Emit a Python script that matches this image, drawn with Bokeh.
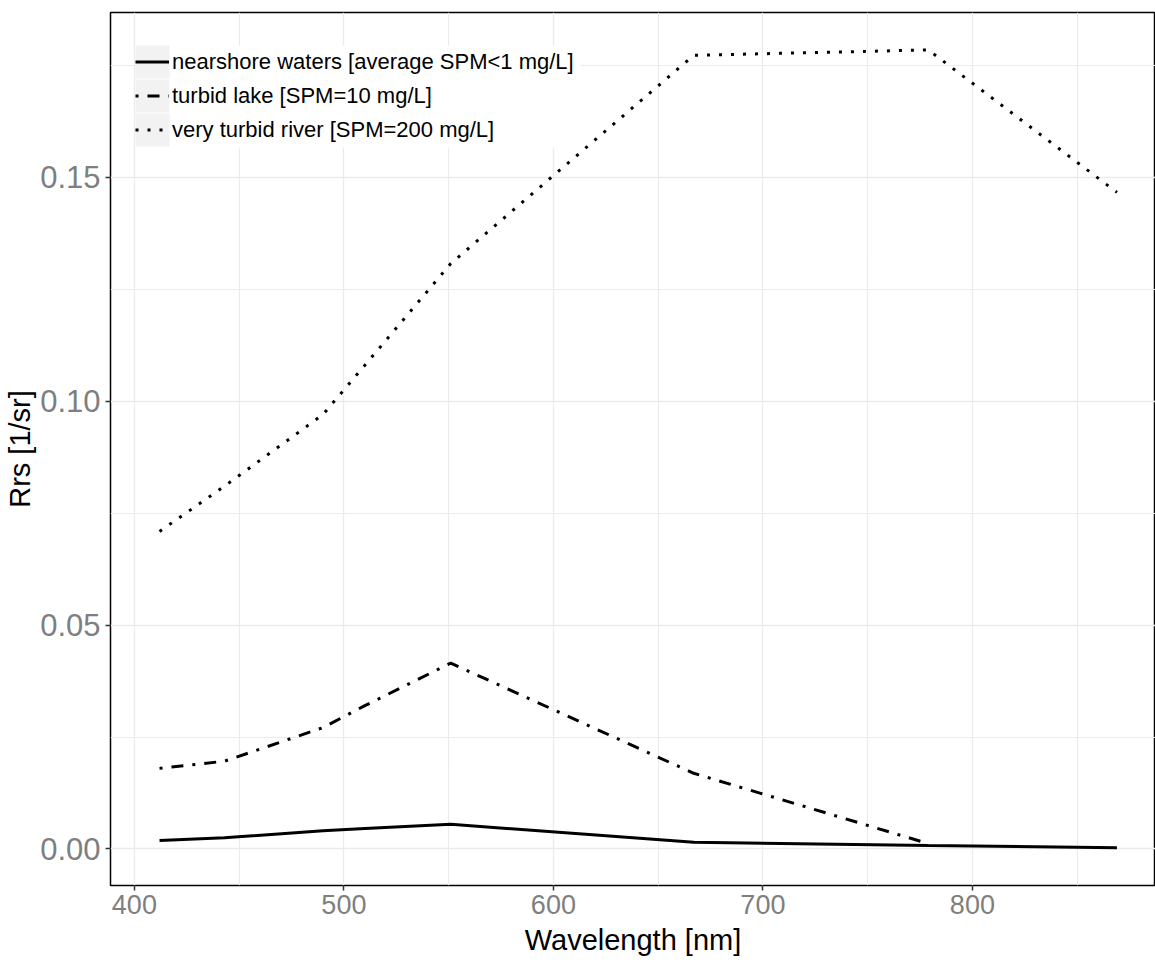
import math
from bokeh.plotting import figure
from bokeh.models import (FixedTicker, NumeralTickFormatter, Legend, LegendItem,
                          BoxAnnotation, Range1d, ColumnDataSource)
from bokeh.embed import file_html
from bokeh.resources import INLINE

# ---- data ----
wavelength = [412, 443, 490, 510, 551, 667, 779, 869]
nearshore = [0.0019, 0.0025, 0.0041, 0.0046, 0.0055, 0.0015, 0.0008, 0.0003]
turbid_lake = [0.0180, 0.0196, 0.0271, 0.0320, 0.0415, 0.0169, 0.0012, float("nan")]
turbid_river = [0.0709, 0.0810, 0.0970, 0.1080, 0.1307, 0.1772, 0.1784, 0.1466]

series_labels = ["nearshore waters [average SPM<1 mg/L]",
                 "turbid lake [SPM=10 mg/L]",
                 "very turbid river [SPM=200 mg/L]"]

x_ticks = [400, 500, 600, 700, 800]
x_minor = [450, 550, 650, 750, 850]
y_ticks = [0.0, 0.05, 0.10, 0.15]
y_minor = [0.025, 0.075, 0.125, 0.175]

FONT = "Liberation Sans"

W, H = 1155, 965
p = figure(width=W, height=H, output_backend="svg", toolbar_location=None,
           x_range=Range1d(388.6, 887.4), y_range=Range1d(-0.00815, 0.18676),
           min_border_left=110, min_border_top=12, min_border_right=0,
           min_border_bottom=80)

p.background_fill_color = "white"
p.border_fill_color = "white"
p.outline_line_color = "black"
p.outline_line_width = 1.5

src = ColumnDataSource(dict(x=wavelength, a=nearshore, b=turbid_lake, c=turbid_river))
r1 = p.line("x", "a", source=src, line_color="black", line_width=3)
r2 = p.line("x", "b", source=src, line_color="black", line_width=3, line_dash="3 9 12 9")
r3 = p.line("x", "c", source=src, line_color="black", line_width=3, line_dash="3 9")

# axes
p.xaxis.ticker = FixedTicker(ticks=x_ticks, minor_ticks=x_minor)
p.yaxis.ticker = FixedTicker(ticks=y_ticks, minor_ticks=y_minor)
p.yaxis.formatter = NumeralTickFormatter(format="0.00")
for ax in (p.xaxis[0], p.yaxis[0]):
    ax.axis_line_color = None
    ax.major_tick_line_color = "#333333"
    ax.major_tick_line_width = 1.5
    ax.major_tick_out = 5
    ax.major_tick_in = 0
    ax.minor_tick_line_color = None
    ax.major_label_text_color = "#7f7f7f"
    ax.major_label_text_font = FONT
    ax.axis_label_text_font = FONT
    ax.axis_label_text_font_style = "normal"
    ax.axis_label_text_color = "black"
    ax.axis_label_text_font_size = "29px"
p.xaxis.major_label_text_font_size = "27px"
p.yaxis.major_label_text_font_size = "31px"
p.xaxis.major_label_standoff = 4
p.yaxis.major_label_standoff = 5
p.xaxis.axis_label = "Wavelength [nm]"
p.yaxis.axis_label = "Rrs [1/sr]"
p.xaxis.axis_label_standoff = 7
p.yaxis.axis_label_standoff = 1

# grid
for g in (p.xgrid[0], p.ygrid[0]):
    g.grid_line_color = "#ebebeb"
    g.grid_line_width = 1.3
    g.minor_grid_line_color = "#ebebeb"
    g.minor_grid_line_width = 1.1

# legend backdrop (white area + grey key boxes)
LX, LY = 135, 45
p.add_layout(BoxAnnotation(left=LX, right=LX + 445, top=LY, bottom=LY + 102,
                           left_units="canvas", right_units="canvas",
                           top_units="canvas", bottom_units="canvas",
                           fill_color="white", fill_alpha=1, line_color=None,
                           level="annotation"))
for i in range(3):
    top = LY + i * 34
    p.add_layout(BoxAnnotation(left=LX, right=LX + 34, top=top, bottom=top + 33,
                               left_units="canvas", right_units="canvas",
                               top_units="canvas", bottom_units="canvas",
                               fill_color="#f2f2f2", fill_alpha=1, line_color=None,
                               level="annotation"))

legend = Legend(items=[LegendItem(label=series_labels[0], renderers=[r1]),
                       LegendItem(label=series_labels[1], renderers=[r2]),
                       LegendItem(label=series_labels[2], renderers=[r3])],
                location=(LX - 110, 885 - (LY + 101)), padding=0, margin=0, spacing=1,
                glyph_width=34, glyph_height=33, label_standoff=3,
                label_height=33, label_text_font=FONT, label_text_font_size="22px",
                label_text_color="black", background_fill_alpha=0,
                border_line_color=None)
p.add_layout(legend)

open("out.html", "w").write(file_html(p, INLINE))
